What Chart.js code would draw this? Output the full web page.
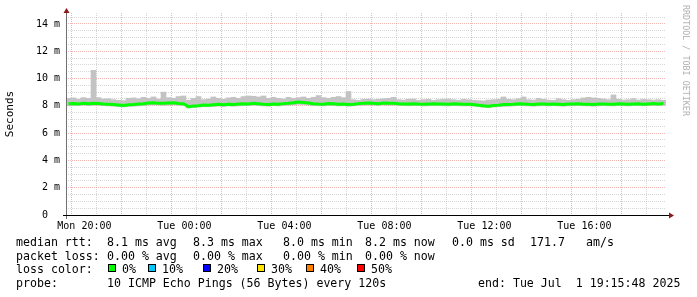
<!DOCTYPE html>
<html>
<head>
<meta charset="utf-8">
<script src="https://cdn.jsdelivr.net/npm/chart.js@4/dist/chart.umd.min.js"></script>
<style>
  html, body { margin:0; padding:0; background:#fff; }
  #wrap { position:relative; width:697px; height:297px; overflow:hidden; font-family:"DejaVu Sans Mono", monospace; }
  canvas { position:absolute; left:0; top:0; }
  .t { position:absolute; white-space:pre; font-size:11.6px; line-height:14px; color:#000; }
  .box { position:absolute; width:6px; height:6px; border:1px solid #000; }
  #wm { position:absolute; left:681px; top:5px; font-size:8.4px; line-height:10px; color:#b0b0b0; white-space:pre;
        transform-origin:0 0; transform:translate(10px,0) rotate(90deg); }
</style>
</head>
<body>
<div id="wrap">
  <canvas id="c" width="697" height="297"></canvas>
  <div id="wm">RRDTOOL / TOBI OETIKER</div>
</div>
<script>
// ---- data (values in ms) ----
const binMinutes = 12;
const xTickLabels = ["Mon 20:00", "Tue 00:00", "Tue 04:00", "Tue 08:00", "Tue 12:00", "Tue 16:00"];
const yTickValues = [0, 2, 4, 6, 8, 10, 12, 14];

const median = [
  8.15, 8.17, 8.14, 8.18, 8.15, 8.19, 8.17, 8.13, 8.12, 8.09,
  8.06, 8.03, 8.08, 8.10, 8.13, 8.15, 8.21, 8.22, 8.19, 8.18,
  8.21, 8.22, 8.17, 8.15, 7.94, 7.98, 8.01, 8.06, 8.04, 8.08,
  8.11, 8.07, 8.12, 8.10, 8.13, 8.15, 8.14, 8.18, 8.15, 8.11,
  8.10, 8.14, 8.12, 8.16, 8.18, 8.23, 8.28, 8.24, 8.20, 8.15,
  8.13, 8.12, 8.17, 8.15, 8.11, 8.13, 8.10, 8.12, 8.16, 8.18,
  8.21, 8.18, 8.16, 8.20, 8.18, 8.19, 8.15, 8.13, 8.14, 8.15,
  8.13, 8.12, 8.14, 8.15, 8.13, 8.13, 8.12, 8.15, 8.13, 8.11,
  8.12, 8.09, 8.04, 8.00, 7.97, 8.02, 8.05, 8.09, 8.10, 8.12,
  8.15, 8.13, 8.11, 8.10, 8.13, 8.13, 8.11, 8.14, 8.12, 8.10,
  8.13, 8.13, 8.15, 8.12, 8.12, 8.10, 8.13, 8.14, 8.12, 8.12,
  8.15, 8.13, 8.11, 8.14, 8.15, 8.12, 8.14, 8.16, 8.14, 8.17
];
const smokeHigh = [
  8.55, 8.58, 8.48, 8.60, 8.55, 10.60, 8.60, 8.50, 8.52, 8.45,
  8.40, 8.38, 8.55, 8.58, 8.52, 8.62, 8.55, 8.65, 8.50, 9.00,
  8.60, 8.55, 8.68, 8.72, 8.40, 8.55, 8.68, 8.45, 8.50, 8.65,
  8.55, 8.48, 8.58, 8.62, 8.55, 8.68, 8.72, 8.70, 8.65, 8.72,
  8.55, 8.62, 8.55, 8.50, 8.62, 8.55, 8.60, 8.65, 8.55, 8.62,
  8.75, 8.60, 8.55, 8.62, 8.68, 8.60, 9.05, 8.45, 8.40, 8.48,
  8.50, 8.45, 8.48, 8.52, 8.55, 8.62, 8.45, 8.42, 8.48, 8.50,
  8.40, 8.45, 8.48, 8.40, 8.45, 8.48, 8.50, 8.45, 8.40, 8.48,
  8.45, 8.40, 8.38, 8.36, 8.42, 8.45, 8.48, 8.65, 8.48, 8.45,
  8.52, 8.65, 8.45, 8.42, 8.55, 8.48, 8.42, 8.40, 8.52, 8.45,
  8.40, 8.45, 8.48, 8.58, 8.62, 8.58, 8.55, 8.50, 8.45, 8.80,
  8.48, 8.42, 8.45, 8.52, 8.42, 8.48, 8.45, 8.42, 8.45, 8.40
];
const smokeLow = [
  8.00, 8.03, 8.02, 8.05, 8.01, 8.04, 8.03, 8.01, 7.99, 7.97,
  7.94, 7.92, 7.95, 7.97, 7.99, 8.02, 8.05, 8.07, 8.05, 8.04,
  8.05, 8.07, 8.04, 8.01, 7.84, 7.87, 7.91, 7.93, 7.93, 7.95,
  7.97, 7.95, 7.99, 7.97, 7.99, 8.02, 8.02, 8.04, 8.01, 7.99,
  7.97, 8.01, 7.99, 8.02, 8.04, 8.07, 8.11, 8.09, 8.05, 8.01,
  8.00, 7.99, 8.02, 8.01, 7.99, 8.00, 7.97, 7.99, 8.02, 8.04,
  8.06, 8.04, 8.03, 8.06, 8.04, 8.05, 8.02, 8.01, 8.00, 8.02,
  8.01, 7.99, 8.00, 8.02, 8.01, 8.00, 7.99, 8.01, 8.00, 7.99,
  7.99, 7.97, 7.93, 7.89, 7.87, 7.91, 7.93, 7.95, 7.97, 7.99,
  8.01, 8.00, 7.99, 7.97, 7.99, 8.00, 7.99, 8.01, 7.99, 7.97,
  7.99, 8.00, 8.02, 8.00, 7.99, 7.97, 7.99, 8.01, 8.00, 7.99,
  8.01, 8.00, 7.99, 8.01, 8.02, 8.00, 8.01, 8.03, 8.02, 8.04
];

// ---- build library data ----
const smokeData = smokeHigh.map((h, i) => ({ x: i * binMinutes + binMinutes / 2, y: [smokeLow[i], h] }));
const medianData = median.map((v, i) => ({ x: i * binMinutes + binMinutes / 2, y: v }));

const firstTickMin = 44.2;   // Mon 20:00 relative to start 19:15:48
const hourTicks = [];
for (let k = 0; k < 24; k++) hourTicks.push(firstTickMin + 60 * k);

const arrows = {
  id: 'arrows',
  afterDraw(chart) {
    const { ctx, chartArea: a } = chart;
    ctx.save();
    ctx.strokeStyle = '#707070';
    ctx.lineWidth = 1;
    ctx.beginPath(); ctx.moveTo(a.left + 0.5, a.top - 2); ctx.lineTo(a.left + 0.5, a.bottom + 4); ctx.stroke();
    ctx.strokeStyle = '#000';
    ctx.beginPath(); ctx.moveTo(a.left - 3, a.bottom + 0.5); ctx.lineTo(a.right + 3, a.bottom + 0.5); ctx.stroke();
    ctx.fillStyle = '#8b1a1a';
    ctx.beginPath();
    ctx.moveTo(a.left + 0.5, a.top - 5); ctx.lineTo(a.left - 2.5, a.top + 0); ctx.lineTo(a.left + 3.5, a.top + 0); ctx.closePath(); ctx.fill();
    ctx.beginPath();
    ctx.moveTo(a.right + 8, a.bottom + 0.5); ctx.lineTo(a.right + 3, a.bottom - 2.5); ctx.lineTo(a.right + 3, a.bottom + 3.5); ctx.closePath(); ctx.fill();
    ctx.restore();
  }
};

const majorGrid = 'rgba(235,130,130,0.6)';
const minorGrid = 'rgba(175,175,175,0.5)';

new Chart(document.getElementById('c'), {
  data: {
    datasets: [
      { type: 'bar', data: smokeData, backgroundColor: 'rgb(195,195,195)', borderWidth: 0,
        barPercentage: 1.0, categoryPercentage: 1.0, grouped: false, order: 2 },
      { type: 'line', data: medianData, borderColor: '#00ff00', borderWidth: 3, pointRadius: 0,
        tension: 0, fill: false, order: 1 }
    ]
  },
  options: {
    responsive: false,
    animation: false,
    events: [],
    layout: { padding: { left: 0, right: 31, top: 13, bottom: 0 } },
    plugins: { legend: { display: false }, tooltip: { enabled: false } },
    scales: {
      x: {
        type: 'linear', min: 0, max: 1440, offset: false,
        afterFit(s) { s.height = 82; },
        afterBuildTicks(s) { s.ticks = hourTicks.map(v => ({ value: v })); },
        grid: {
          drawTicks: false,
          color: c => (c.index % 2 === 0 ? majorGrid : minorGrid),
          lineWidth: 1
        },
        border: { display: false, dash: [1, 1] },
        ticks: {
          autoSkip: false, maxRotation: 0, padding: 5, color: '#000',
          font: { family: 'DejaVu Sans Mono', size: 10 },
          callback: (v, i) => (i % 4 === 0 ? xTickLabels[i / 4] : '')
        }
      },
      y: {
        min: 0, max: 14.8,
        afterFit(s) { s.width = 66; },
        afterBuildTicks(s) {
          const t = [];
          for (let v = 0; v <= 14.5; v += 0.5) t.push({ value: v });
          s.ticks = t;
        },
        grid: {
          drawTicks: false,
          color: c => (c.tick.value % 2 === 0 ? majorGrid : minorGrid),
          lineWidth: 1
        },
        border: { display: false, dash: [1, 1] },
        title: { display: true, text: 'Seconds', color: '#000', padding: { top: 4, bottom: 0 },
                 font: { family: 'DejaVu Sans Mono', size: 11 } },
        ticks: {
          padding: 6, color: '#000', autoSkip: false,
          font: { family: 'DejaVu Sans Mono', size: 10 },
          callback: v => (yTickValues.includes(v) ? (v === 0 ? '0  ' : v + ' m') : '')
        }
      }
    }
  },
  plugins: [arrows]
});

// ---- legend text (real DOM text) ----
const wrap = document.getElementById('wrap');
function txt(x, baseline, s) {
  const d = document.createElement('div');
  d.className = 't';
  d.style.left = x + 'px';
  d.style.top = (baseline - 11) + 'px';
  d.textContent = s;
  wrap.appendChild(d);
}
function box(x, y, color) {
  const d = document.createElement('div');
  d.className = 'box';
  d.style.left = x + 'px'; d.style.top = y + 'px'; d.style.background = color;
  wrap.appendChild(d);
}
const rowBase = [245.5, 259.5, 273.3, 287];
const rttStats = ["8.1 ms avg", "8.3 ms max", "8.0 ms min", "8.2 ms now", "0.0 ms sd", "171.7", "am/s"];
const rttX = [107, 193, 283, 365, 452, 530, 586];
const lossStats = ["0.00 % avg", "0.00 % max", "0.00 % min", "0.00 % now"];
const lossX = [107, 193, 283, 365];
const lossColors = ["#00ff00", "#00c8ff", "#0000ff", "#ffe600", "#ff7f00", "#ff0000"];
const lossLabels = ["0%", "10%", "20%", "30%", "40%", "50%"];
const boxX = [108, 148, 203, 257, 306, 357];

txt(16, rowBase[0], "median rtt:");
rttStats.forEach((s, i) => txt(rttX[i], rowBase[0], s));
txt(16, rowBase[1], "packet loss:");
lossStats.forEach((s, i) => txt(lossX[i], rowBase[1], s));
txt(16, rowBase[2], "loss color:");
lossColors.forEach((c, i) => { box(boxX[i], 264, c); txt(boxX[i] + 14, rowBase[2], lossLabels[i]); });
txt(16, rowBase[3], "probe:");
txt(107, rowBase[3], "10 ICMP Echo Pings (56 Bytes) every 120s");
txt(478, rowBase[3], "end: Tue Jul  1 19:15:48 2025");
</script>
</body>
</html>
